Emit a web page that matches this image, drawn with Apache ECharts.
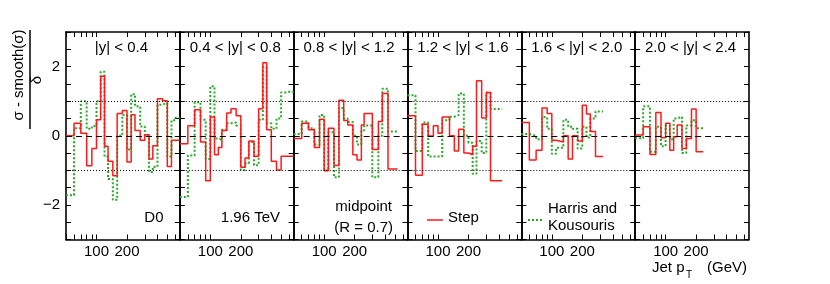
<!DOCTYPE html>
<html><head><meta charset="utf-8">
<script src="https://cdn.jsdelivr.net/npm/echarts@6/dist/echarts.min.js"></script>
<style>html,body{margin:0;padding:0;background:#fff}#c{width:830px;height:284px}</style>
</head><body><div id="c"></div>
<script>
// ---- data ----
const panelLabels = ['|y| < 0.4', '0.4 < |y| < 0.8', '0.8 < |y| < 1.2', '1.2 < |y| < 1.6', '1.6 < |y| < 2.0', '2.0 < |y| < 2.4'];
const xTickValues = [50, 60, 70, 80, 90, 100, 200, 300, 400, 500, 600];
const xLabelValues = [100, 200];
const yLabelValues = [2, 0, -2];

const edges1 = [50,60,70,80,90,100,110,120,130,145,160,180,200,220,240,270,300,330,360,400,450,500,550,600,665];
const step1  = [0.00,0.36,0.07,-0.87,-0.37,0.46,1.72,-0.30,-0.74,-1.16,0.64,0.73,-0.76,0.61,0.15,-0.13,0.03,-0.67,-0.29,1.07,1.01,-0.89,-0.13,-0.13];
const hk1    = [-1.72,0.22,1.00,0.20,0.28,1.00,1.85,-0.60,-1.25,-1.85,0.00,0.60,-0.40,1.20,0.85,0.27,0.00,-1.05,-0.90,0.90,0.95,-0.60,0.45,0.52];

const edges2 = [50,60,70,80,90,100,110,120,130,145,160,180,200,220,240,270,300,330,360,400,450,500,550,600,665];
const step2  = [-0.23,0.29,0.75,-0.18,-1.30,0.54,-0.55,-0.34,0.15,0.66,0.78,0.58,-0.91,-0.64,-0.15,-0.59,0.78,2.11,0.17,-0.74,-0.99,-0.59,-0.59,-0.59];
const hk2    = [-1.77,-0.57,0.97,0.46,-0.67,1.43,-0.08,-0.12,0.17,0.36,0.38,0.30,-0.99,-0.80,-0.18,-0.85,0.46,1.98,0.36,0.20,0.50,1.25,1.27,1.27];

const edges3 = [50,60,70,80,90,100,110,125,140,156,171,192,211,233,248,299,343,375,427,530];
const step3  = [-0.08,0.36,0.17,-0.34,0.48,-1.01,0.22,-0.86,1.03,0.44,0.31,-0.55,-0.70,0.31,0.64,-0.40,0.41,1.22,-0.96];
const hk3    = [0.05,0.41,0.22,-0.25,0.60,-1.00,0.10,-1.20,0.80,0.50,0.40,0.00,-0.25,0.15,0.30,-1.20,0.00,1.36,0.12];

const edges4 = [50,60,70,80,90,100,110,130,145,160,180,200,220,240,270,300,330,430];
const step4  = [0.58,-1.14,0.33,-0.01,0.29,0.07,0.54,0.00,-0.44,0.19,-0.50,-0.55,-0.30,1.59,0.51,1.25,-1.30];
const hk4    = [1.17,-0.44,0.38,-0.60,-0.60,-0.60,0.45,0.55,0.60,1.22,0.00,-0.20,-1.10,-0.15,-0.50,1.25,0.77];

const edges5 = [50,60,70,80,90,100,110,130,145,160,180,200,220,240,270,320];
const step5  = [0.38,-0.70,-0.42,0.80,0.64,-0.13,-0.18,0.00,-0.67,0.00,-0.15,0.88,0.63,0.12,-0.60];
const hk5    = [0.05,0.00,-0.10,0.54,0.20,-0.52,-0.35,0.46,0.26,0.20,-0.37,0.26,-0.05,0.50,0.70];

const edges6 = [50,60,70,80,90,100,110,120,130,145,160,180,200,235];
const step6  = [0.02,0.26,-0.54,0.67,-0.06,0.36,-0.42,-0.03,0.31,-0.37,-0.08,0.77,-0.46];
const hk6    = [-0.07,0.85,-0.46,0.26,-0.30,0.30,-0.10,0.50,0.55,-0.50,0.30,0.45,0.22];

const allEdges = [edges1, edges2, edges3, edges4, edges5, edges6];
const allStep  = [step1, step2, step3, step4, step5, step6];
const allHK    = [hk1, hk2, hk3, hk4, hk5, hk6];

// ---- chart ----
const FONT = 'Liberation Sans, Arial, Helvetica, sans-serif';
const PL = 66, PW = 113.83, TOP = 32, H = 207.5;
const RED = '#ff1a1a', GREEN = '#2aa82a';

function hist(e, v) {
  const d = v.map((y, k) => [e[k], y]);
  d.push([e[e.length - 1], v[v.length - 1]]);
  return d;
}

const grid = [], xAxis = [], yAxis = [], series = [], graphic = [];
for (let i = 0; i < 6; i++) {
  grid.push({ left: PL + i * PW, top: TOP, width: PW, height: H });
  const axLine = { show: true, onZero: false, lineStyle: { color: '#000', width: 1.6 } };
  const xBase = {
    type: 'log', logBase: 10, min: 50, max: 665, gridIndex: i,
    axisLine: axLine, splitLine: { show: false },
    axisTick: { show: true, inside: true, length: 5, customValues: xTickValues, lineStyle: { color: '#000', width: 1 } }
  };
  xAxis.push(Object.assign({}, xBase, {
    position: 'bottom',
    axisLabel: { show: true, customValues: xLabelValues, fontSize: 15, fontFamily: FONT, color: '#000', margin: 5 }
  }));
  xAxis.push(Object.assign({}, xBase, { position: 'top', axisLabel: { show: false } }));
  const yBase = {
    type: 'value', min: -3, max: 3, interval: 0.5, gridIndex: i,
    axisLine: axLine, splitLine: { show: false },
    axisTick: { show: true, inside: true, length: 5, lineStyle: { color: '#000', width: 1 } }
  };
  yAxis.push(Object.assign({}, yBase, {
    position: 'left',
    axisLabel: {
      show: i === 0, fontSize: 15, fontFamily: FONT, color: '#000', margin: 6,
      customValues: yLabelValues,
      formatter: v => (v < 0 ? '\u2212' + Math.abs(v) : String(v))
    }
  }));
  yAxis.push(Object.assign({}, yBase, { position: 'right', axisLabel: { show: false } }));

  series.push({
    type: 'line', xAxisIndex: 2 * i, yAxisIndex: 2 * i, data: [], z: 1, silent: true,
    markLine: {
      silent: true, symbol: ['none', 'none'], label: { show: false }, animation: false,
      data: [
        { yAxis: 0, lineStyle: { color: '#000', width: 1.2, type: [6, 4] } },
        { yAxis: 1, lineStyle: { color: '#000', width: 1, type: [1, 2] } },
        { yAxis: -1, lineStyle: { color: '#000', width: 1, type: [1, 2] } }
      ]
    }
  });
  series.push({
    type: 'line', step: 'end', xAxisIndex: 2 * i, yAxisIndex: 2 * i,
    data: hist(allEdges[i], allHK[i]), showSymbol: false, symbol: 'none', z: 3,
    lineStyle: { color: GREEN, width: 2, type: [2, 2] }
  });
  series.push({
    type: 'line', step: 'end', xAxisIndex: 2 * i, yAxisIndex: 2 * i,
    data: hist(allEdges[i], allStep[i]), showSymbol: false, symbol: 'none', z: 4,
    lineStyle: { color: RED, width: 1.5 }
  });

  graphic.push({ type: 'text', x: PL + i * PW + PW / 2 - 1.5, y: 48,
    style: { text: panelLabels[i], fontSize: 15, fontFamily: FONT, fill: '#000', align: 'center', verticalAlign: 'middle' } });
}

function txt(t, x, y, align, size) {
  return { type: 'text', x: x, y: y, style: { text: t, fontSize: size || 15, fontFamily: FONT, fill: '#000', align: align, verticalAlign: 'middle' } };
}
graphic.push(txt('D0', 163.5, 218, 'right'));
graphic.push(txt('1.96 TeV', 280, 218, 'right'));
graphic.push(txt('midpoint', 392, 207, 'right'));
graphic.push(txt('(R = 0.7)', 393, 227.5, 'right'));
graphic.push(txt('Step', 448, 218, 'left'));
graphic.push(txt('Harris and', 548, 209, 'left'));
graphic.push(txt('Kousouris', 548, 226, 'left'));
graphic.push({ type: 'line', shape: { x1: 427, y1: 220, x2: 443, y2: 220 }, style: { stroke: RED, lineWidth: 1.5 } });
graphic.push({ type: 'line', shape: { x1: 528, y1: 220, x2: 544, y2: 220 }, style: { stroke: GREEN, lineWidth: 2, lineDash: [2, 2] } });
graphic.push(txt('Jet p', 652, 268, 'left'));
graphic.push(txt('T', 686, 275, 'left', 10));
graphic.push(txt('(GeV)', 747, 268, 'right'));
// y-axis title as a fraction
graphic.push({ type: 'text', x: 19, y: 75, rotation: Math.PI / 2,
  style: { text: 'σ - smooth(σ)', fontSize: 15, fontFamily: FONT, fill: '#000', align: 'center', verticalAlign: 'middle' } });
graphic.push({ type: 'line', shape: { x1: 30, y1: 30, x2: 30, y2: 129 }, style: { stroke: '#000', lineWidth: 1.5 } });
graphic.push({ type: 'text', x: 37, y: 80, rotation: Math.PI / 2,
  style: { text: 'δ', fontSize: 15, fontFamily: FONT, fill: '#000', align: 'center', verticalAlign: 'middle' } });

const chart = echarts.init(document.getElementById('c'));
chart.setOption({
  animation: false,
  backgroundColor: '#fff',
  grid: grid, xAxis: xAxis, yAxis: yAxis, series: series, graphic: graphic
});
</script></body></html>
